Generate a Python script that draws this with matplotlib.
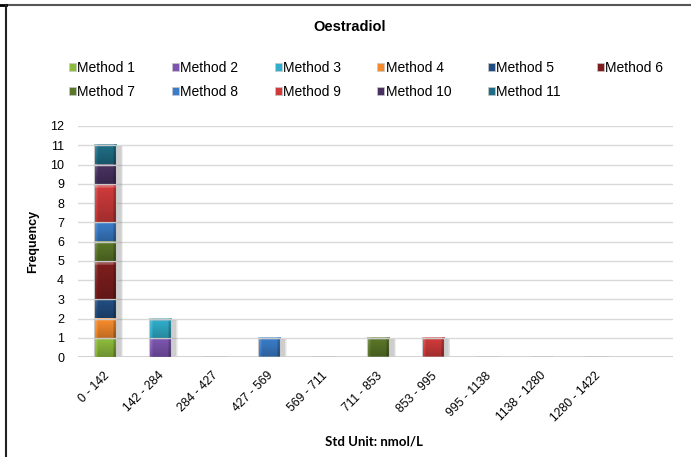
import numpy as np
import matplotlib
matplotlib.use("Agg")
import matplotlib.pyplot as plt
from matplotlib.colors import to_rgb
from matplotlib.lines import Line2D
from matplotlib.patches import Patch
from matplotlib.transforms import offset_copy

plt.rcParams['font.family'] = ['Liberation Sans', 'DejaVu Sans']

# frequency of each method's result per concentration bin
bins = ["0 - 142", "142 - 284", "284 - 427", "427 - 569", "569 - 711",
        "711 - 853", "853 - 995", "995 - 1138", "1138 - 1280", "1280 - 1422"]
methods = ["Method %d" % i for i in range(1, 12)]
counts = [
    [1, 0, 0, 0, 0, 0, 0, 0, 0, 0],  # Method 1
    [0, 1, 0, 0, 0, 0, 0, 0, 0, 0],  # Method 2
    [0, 1, 0, 0, 0, 0, 0, 0, 0, 0],  # Method 3
    [1, 0, 0, 0, 0, 0, 0, 0, 0, 0],  # Method 4
    [1, 0, 0, 0, 0, 0, 0, 0, 0, 0],  # Method 5
    [2, 0, 0, 0, 0, 0, 0, 0, 0, 0],  # Method 6
    [1, 0, 0, 0, 0, 1, 0, 0, 0, 0],  # Method 7
    [1, 0, 0, 1, 0, 0, 0, 0, 0, 0],  # Method 8
    [2, 0, 0, 0, 0, 0, 1, 0, 0, 0],  # Method 9
    [1, 0, 0, 0, 0, 0, 0, 0, 0, 0],  # Method 10
    [1, 0, 0, 0, 0, 0, 0, 0, 0, 0],  # Method 11
]
colors = ["#8dbb3c", "#7d55b0", "#31aecb", "#f58a2c", "#224d80", "#7e1e1e",
          "#5a7628", "#3a7cc8", "#cf3a3a", "#483160", "#1f6e86"]

def bevel(c, ny=40, nx=20):
    # vertical profile: bright rim at top, darker towards the bottom
    t = np.linspace(0, 1, ny)[:, None]
    v = np.where(t < 0.12, 0.45 - t * 2.5, -0.25 * (t - 0.12))
    s = np.linspace(0, 1, nx)[None, :]
    h = np.where(s < 0.12, 0.15, np.where(s > 0.88, -0.2, 0.0))
    f = np.clip(v + h, -0.6, 0.7)
    base = np.array(to_rgb(c))
    img = np.where(f[..., None] > 0, base + (1 - base) * f[..., None],
                   base * (1 + f[..., None]))
    return np.clip(img, 0, 1)

fig = plt.figure(figsize=(6.91, 4.57), dpi=100)
ax = fig.add_axes([78 / 691, 1 - 357 / 457, 595 / 691, 231 / 457])

x = np.arange(len(bins))
w = 0.41
totals = np.sum(counts, axis=0)

# soft drop shadow behind every column
for k in range(4):
    ax.bar(x + w * 0.2 + k * 0.012, totals, w, bottom=-0.06, color="#909090",
           alpha=0.13, zorder=1, linewidth=0)

bottom = np.zeros(len(bins))
for name, vals, c in zip(methods, counts, colors):
    vals = np.array(vals, dtype=float)
    bars = ax.bar(x, vals, w, bottom=bottom, color=c,
                  edgecolor="#c8c8c8", linewidth=0.8, zorder=3)
    for r, v in zip(bars, vals):
        if v == 0:
            continue
        ax.imshow(bevel(c), extent=[r.get_x(), r.get_x() + r.get_width(),
                                    r.get_y(), r.get_y() + r.get_height()],
                  aspect="auto", zorder=2.9, interpolation="bilinear")
        r.set_facecolor("none")
    bottom += vals

ax.set_xlim(-0.5, 10.4)
ax.set_ylim(0, 12)
ax.set_yticks(range(13))
ax.yaxis.grid(True, color="#d9d9d9", linewidth=1)
ax.set_axisbelow(True)
for s in ax.spines.values():
    s.set_visible(False)
ax.axhline(0, color="#cfcfcf", linewidth=2, zorder=2)
ax.tick_params(length=0, labelsize=9, pad=10)
ax.set_xticks(x)
ax.set_xticklabels([])
for xi, lab in zip(x, bins):
    tr = offset_copy(ax.get_xaxis_transform(), fig=fig, x=2, y=-17, units="dots")
    ax.text(xi, 0, lab, transform=tr, rotation=45, ha="right", va="center",
            rotation_mode="anchor", fontsize=8.8)

ax.set_ylabel("Frequency", fontsize=9, fontweight="bold", labelpad=8)
fig.text(374 / 691, 1 - 441 / 457, "Std Unit: nmol/L", ha="center", va="center",
         fontsize=9.5, fontweight="bold", family=["Lato", "DejaVu Sans"])
fig.text(350 / 691, 1 - 27 / 457, "Oestradiol", ha="center", va="center",
         fontsize=10.5, fontweight="bold")

# legend fills by column, so interleave to read across rows
order = [0, 6, 1, 7, 2, 8, 3, 9, 4, 10, 5]
handles = [Patch(facecolor=colors[i], edgecolor="#c8c8c8", linewidth=0.5) for i in order]
labels = [methods[i] for i in order]
leg = fig.legend(handles, labels, ncol=6, loc="upper left",
                 bbox_to_anchor=(69 / 691, 1 - 61 / 457), frameon=False,
                 fontsize=10, handlelength=0.5, handleheight=0.5,
                 handletextpad=0.1, columnspacing=2.62, labelspacing=0.72,
                 borderaxespad=0, borderpad=0)

# chart frame
fig.add_artist(Line2D([6 / 691, 1], [1 - 5 / 457] * 2, color="#555555", lw=1.5))
fig.add_artist(Line2D([0, 6 / 691], [1 - 5 / 457] * 2, color="black", lw=2))
fig.add_artist(Line2D([6 / 691] * 2, [0, 1 - 5 / 457], color="#222222", lw=1.5))

fig.savefig("out.png", dpi=100)
